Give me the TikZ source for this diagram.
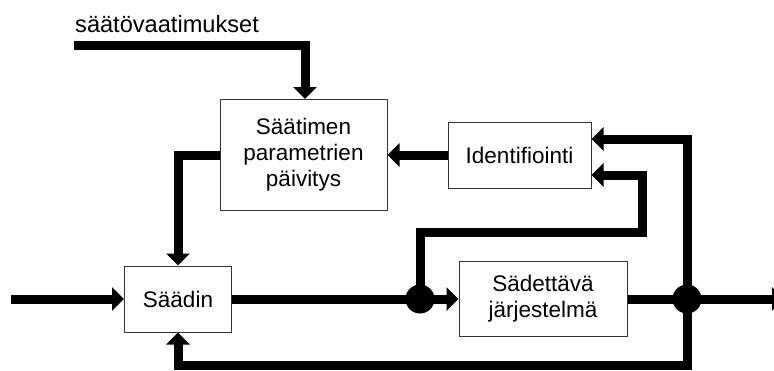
\documentclass[tikz,border=0pt]{standalone}
\usepackage{fontspec}
\setmainfont{Liberation Sans}
\usetikzlibrary{arrows.meta}
\begin{document}
\begin{tikzpicture}[x=1pt,y=-1pt,
  block/.style={draw=black!80, line width=1pt, fill=white, align=center,
    inner sep=0pt, font=\fontsize{22.5}{26}\selectfont},
  flow/.style={line width=9pt, line join=miter,
    -{Triangle[length=12pt,width=23pt]}},
  wire/.style={line width=9pt, line join=miter},
  junction/.style={fill=black}]
  \useasboundingbox (0,0) rectangle (774,370);
  \clip (0,0) rectangle (774,370);

  % blocks
  \node[block, minimum width=167pt, minimum height=111pt] (update) at (303.5,155)
    {Säätimen\\parametrien\\päivitys};
  \node[block, minimum width=107pt, minimum height=66pt] (ctrl) at (178,299) {Säädin};
  \node[block, minimum width=143pt, minimum height=66pt] (ident) at (519.5,155) {Identifiointi};
  \node[block, minimum width=168pt, minimum height=75pt] (plant) at (543,299) {Sädettävä\\järjestelmä};

  % requirement input
  \node[anchor=base west, inner sep=0pt, font=\fontsize{23.6}{27}\selectfont] (req) at (75,32) {säätövaatimukset};
  \coordinate (rs) at (74,45);
  \coordinate (rc) at (305,45);
  \draw[flow] (rs) -- (rc) -- (rc |- update.north);

  % parameter update to controller
  \draw[flow] (update.west) -- (update.west -| ctrl.north) -- (ctrl.north);

  % identification to parameter update
  \draw[flow] (ident.west) -- (update.east);

  % junction points
  \coordinate (j1) at (420,299);
  \coordinate (j2) at (687,299);
  \coordinate (in) at (11,299);
  \coordinate (out) at (784,299);

  % main signal path
  \draw[flow] (in) -- (ctrl.west);
  \draw[flow] (ctrl.east) -- (j1) -- (plant.west);
  \draw[flow] (plant.east) -- (j2) -- (out);

  % output feedback to identification and controller
  \coordinate (f1) at (687,139);
  \coordinate (b1) at (687,365);
  \draw[wire, {Triangle[length=12pt,width=23pt]}-{Triangle[length=12pt,width=23pt]}]
    (f1 -| ident.east) -- (f1) -- (b1) -- (b1 -| ctrl.south) -- (ctrl.south);

  % control signal to identification
  \coordinate (u1) at (420,232);
  \coordinate (u2) at (642,232);
  \coordinate (u3) at (642,175);
  \draw[flow] (j1) -- (u1) -- (u2) -- (u3) -- (u3 -| ident.east);

  \fill[junction] (j1) circle (14.5pt);
  \fill[junction] (j2) circle (14.5pt);
\end{tikzpicture}
\end{document}
